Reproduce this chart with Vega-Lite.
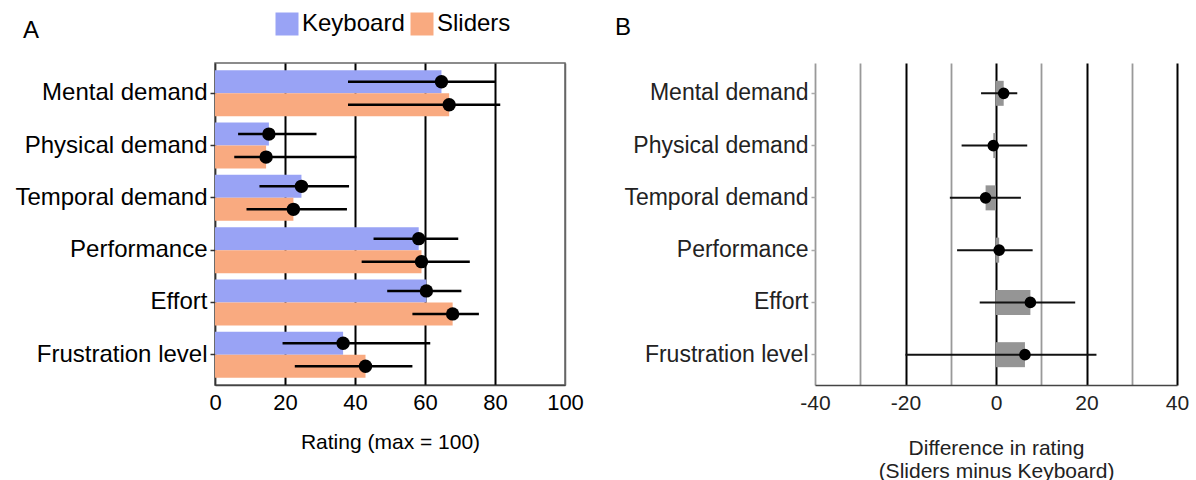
{
  "$schema": "https://vega.github.io/schema/vega-lite/v6.json",
  "autosize": {"type": "pad"},
  "padding": {"left": 14, "top": 12, "right": 10, "bottom": 2},
  "background": "white",
  "spacing": 250,
  "bounds": "flush",
  "config": {
    "font": "Liberation Sans",
    "view": {"stroke": null},
    "axis": {"titleFontWeight": "normal", "labelColor": "#000", "titleColor": "#000", "labelFont": "Liberation Sans", "titleFont": "Liberation Sans", "labelLimit": 400},
    "legend": {"labelFont": "Liberation Sans"},
    "title": {"font": "Liberation Sans"}
  },
  "datasets": {
    "ratings": [
      {"cat": "Mental demand", "group": "Keyboard", "mean": 64.7, "lo": 38, "hi": 80.2},
      {"cat": "Mental demand", "group": "Sliders", "mean": 66.9, "lo": 38, "hi": 81.5},
      {"cat": "Physical demand", "group": "Keyboard", "mean": 15.4, "lo": 6.6, "hi": 29},
      {"cat": "Physical demand", "group": "Sliders", "mean": 14.6, "lo": 5.5, "hi": 40.4},
      {"cat": "Temporal demand", "group": "Keyboard", "mean": 24.7, "lo": 12.7, "hi": 38.3},
      {"cat": "Temporal demand", "group": "Sliders", "mean": 22.4, "lo": 9, "hi": 37.7},
      {"cat": "Performance", "group": "Keyboard", "mean": 58.2, "lo": 45.3, "hi": 69.5},
      {"cat": "Performance", "group": "Sliders", "mean": 59, "lo": 41.9, "hi": 72.8},
      {"cat": "Effort", "group": "Keyboard", "mean": 60.4, "lo": 49.2, "hi": 70.4},
      {"cat": "Effort", "group": "Sliders", "mean": 67.9, "lo": 56.4, "hi": 75.4},
      {"cat": "Frustration level", "group": "Keyboard", "mean": 36.6, "lo": 19.3, "hi": 61.5},
      {"cat": "Frustration level", "group": "Sliders", "mean": 43, "lo": 22.8, "hi": 56.4}
    ],
    "diffs": [
      {"cat": "Mental demand", "diff": 1.7, "lo": -3.3, "hi": 4.7},
      {"cat": "Physical demand", "diff": -0.6, "lo": -7.6, "hi": 6.9},
      {"cat": "Temporal demand", "diff": -2.3, "lo": -10.2, "hi": 5.5},
      {"cat": "Performance", "diff": 0.7, "lo": -8.6, "hi": 8.1},
      {"cat": "Effort", "diff": 7.6, "lo": -3.6, "hi": 17.5},
      {"cat": "Frustration level", "diff": 6.4, "lo": -20, "hi": 22.2}
    ]
  },
  "hconcat": [
    {
      "width": 350,
      "height": 322,
      "view": {"stroke": "#666", "strokeWidth": 1.5},
      "title": {"text": "A", "anchor": "start", "frame": "group", "dx": -192, "offset": 1, "fontSize": 24, "fontWeight": "normal", "color": "#000", "baseline": "alphabetic"},
      "data": {"name": "ratings"},
      "encoding": {
        "y": {
          "field": "cat", "type": "nominal",
          "sort": ["Mental demand", "Physical demand", "Temporal demand", "Performance", "Effort", "Frustration level"],
          "scale": {"paddingInner": 0.12, "paddingOuter": 0.14},
          "axis": {"title": null, "labelFontSize": 24, "labelColor": "#000", "labelPadding": 3, "tickSize": 5, "tickColor": "#333", "tickWidth": 1.5, "domainColor": "#333", "domainWidth": 1.5, "grid": false}
        },
        "yOffset": {"field": "group", "type": "nominal", "sort": ["Keyboard", "Sliders"]}
      },
      "layer": [
        {
          "mark": {"type": "bar"},
          "encoding": {
            "x": {
              "field": "mean", "type": "quantitative",
              "scale": {"domain": [0, 100], "nice": false},
              "axis": {
                "values": [0, 10, 20, 30, 40, 50, 60, 70, 80, 90, 100],
                "labelExpr": "datum.value % 20 === 0 ? datum.label : ''",
                "labelFlush": false, "labelOverlap": false,
                "grid": true,
                "gridColor": {"condition": {"test": "datum.value % 20 === 0 && datum.value > 0 && datum.value < 100", "value": "#000"}, "value": "#666"},
                "gridWidth": {"condition": {"test": "datum.value % 20 === 0 && datum.value > 0 && datum.value < 100", "value": 2}, "value": 1.5},
                "ticks": false,
                "domainColor": "#444", "domainWidth": 1.5,
                "labelFontSize": 22, "labelPadding": 7,
                "title": "Rating (max = 100)", "titleFontSize": 21, "titlePadding": 18
              }
            },
            "color": {
              "field": "group", "type": "nominal",
              "scale": {"domain": ["Keyboard", "Sliders"], "range": ["#99A3F5", "#F9AA80"]},
              "legend": {
                "title": null, "orient": "none", "legendX": 60, "legendY": -51,
                "direction": "horizontal", "symbolType": "square", "symbolSize": 529,
                "symbolStrokeWidth": 0, "symbolOpacity": 1, "labelFontSize": 24, "labelColor": "#000",
                "labelOffset": 3, "columnPadding": 5, "padding": 0
              }
            }
          }
        },
        {
          "mark": {"type": "rule", "strokeWidth": 2.5, "color": "#000"},
          "encoding": {
            "x": {"field": "lo", "type": "quantitative"},
            "x2": {"field": "hi"}
          }
        },
        {
          "mark": {"type": "point", "filled": true, "size": 180, "color": "#000", "opacity": 1},
          "encoding": {
            "x": {"field": "mean", "type": "quantitative"}
          }
        }
      ]
    },
    {
      "width": 362,
      "height": 322,
      "title": {"text": "B", "anchor": "start", "frame": "group", "dx": -200, "offset": 4, "fontSize": 24, "fontWeight": "normal", "color": "#000", "baseline": "alphabetic"},
      "data": {"name": "diffs"},
      "encoding": {
        "y": {
          "field": "cat", "type": "nominal",
          "sort": ["Mental demand", "Physical demand", "Temporal demand", "Performance", "Effort", "Frustration level"],
          "scale": {"paddingInner": 0.12, "paddingOuter": 0.14},
          "axis": {"title": null, "labelFontSize": 23, "labelColor": "#222", "labelPadding": 3, "tickSize": 4, "tickColor": "#aaa", "tickWidth": 1.5, "domain": false, "grid": false}
        }
      },
      "layer": [
        {
          "mark": {"type": "bar", "size": 25, "color": "#959595"},
          "encoding": {
            "x": {
              "field": "diff", "type": "quantitative",
              "scale": {"domain": [-40, 40], "nice": false},
              "axis": {
                "values": [-40, -30, -20, -10, 0, 10, 20, 30, 40],
                "labelExpr": "datum.value % 20 === 0 ? '' + datum.value : ''",
                "labelFlush": false, "labelOverlap": false,
                "grid": true,
                "gridColor": {"condition": {"test": "datum.value % 20 === 0 && datum.value > -40", "value": "#000"}, "value": "#999"},
                "gridWidth": {"condition": {"test": "datum.value % 20 === 0 && datum.value > -40", "value": 2}, "value": 1.8},
                "ticks": false,
                "domainColor": "#444", "domainWidth": 1.5,
                "labelFontSize": 21, "labelColor": "#222", "labelPadding": 7,
                "title": ["Difference in rating", "(Sliders minus Keyboard)"],
                "titleFontSize": 21, "titleColor": "#222", "titleLineHeight": 23, "titlePadding": 24
              }
            }
          }
        },
        {
          "mark": {"type": "rule", "strokeWidth": 2, "color": "#111"},
          "encoding": {
            "x": {"field": "lo", "type": "quantitative"},
            "x2": {"field": "hi"}
          }
        },
        {
          "mark": {"type": "point", "filled": true, "size": 135, "color": "#000", "opacity": 1},
          "encoding": {
            "x": {"field": "diff", "type": "quantitative"}
          }
        }
      ]
    }
  ]
}
